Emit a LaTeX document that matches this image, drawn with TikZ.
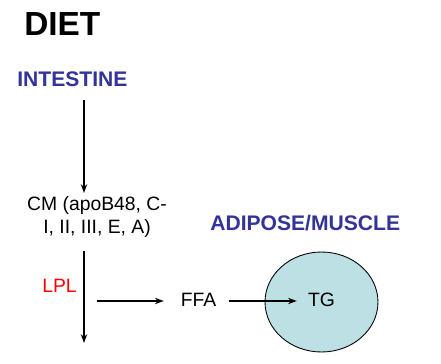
\documentclass[tikz,border=0pt]{standalone}
\usepackage{fontspec}
\setmainfont{Liberation Sans}
\usetikzlibrary{arrows.meta, positioning, shapes.geometric}
\definecolor{organblue}{RGB}{51,51,153}
\definecolor{cellfill}{RGB}{189,224,228}

\begin{document}
\begin{tikzpicture}[
                x=0.02cm, y=-0.02cm,
                title/.style={font=\fontsize{19}{22}\selectfont\bfseries, inner sep=0pt, anchor=west},
                organ/.style={font=\fontsize{12}{14}\selectfont\bfseries, text=organblue, inner sep=0pt, anchor=west},
                molecule/.style={font=\fontsize{11}{13}\selectfont, inner sep=0pt, align=center},
                enzyme/.style={font=\fontsize{11}{13}\selectfont, text=red, inner sep=0pt},
                cell/.style={ellipse, draw=black, line width=0.5pt, fill=cellfill, minimum width=2.26cm, minimum height=2cm},
                arrow/.style={line width=1pt, -{Stealth[length=5pt, width=3.6pt]}}
            ]%
            \useasboundingbox (0,0) rectangle (441,363);
            %
            % Titles
            \node[title] (diet) at (24,24) {DIET};
            \node[organ] (intestine) at (17,79.5) {INTESTINE};
            \node[organ] (adipose) at (210,223.5) {ADIPOSE/MUSCLE};
            %
            % Lipoprotein and enzyme
            \node[molecule] (cm) at (97,217) {CM (apoB48, C-\\I, II, III, E, A)};
            \node[enzyme, anchor=east] (lpl) at (77,285.5) {LPL};
            %
            % Adipose / muscle cell
            \node[cell] (adipocyte) at (321.5,302) {};
            \node[molecule] (ffa) at (198.5,299.5) {FFA};
            \node[molecule] (tg) at (321.5,299.5) {TG};
            %
            % Connector ends
            \coordinate (gut) at (84,100);
            \coordinate (cmin) at (84,193);
            \coordinate (cmout) at (84,251);
            \coordinate (vlend) at (84,343);
            \coordinate (split) at (97,301);
            %
            % Flow
            \draw[arrow] (gut) -- (cmin);
            \draw[arrow] (cmout) -- (vlend);
            \draw[arrow, shorten >=9.5pt] (split) -- (split -| ffa.west);
            \draw[arrow, shorten <=6.8pt, shorten >=6.2pt] (ffa.east |- split) -- (tg.west |- split);
        \end{tikzpicture}
\end{document}
